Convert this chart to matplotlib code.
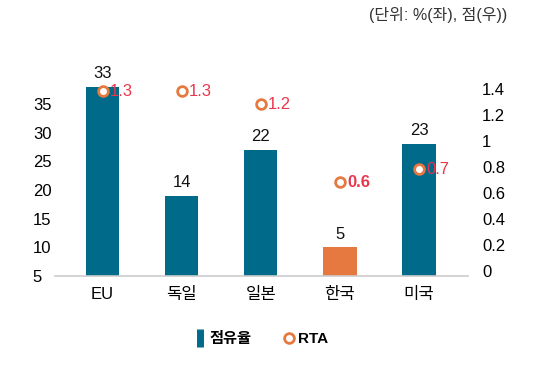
import numpy as np
import matplotlib
matplotlib.use("Agg")
import matplotlib.pyplot as plt
from matplotlib.lines import Line2D

plt.rcParams['font.family'] = ['Liberation Sans', 'Noto Sans CJK KR', 'DejaVu Sans']

categories = ['EU', '독일', '일본', '한국', '미국']
share = [33, 14, 22, 5, 23]          # 점유율 (%), left axis
rta = [1.3, 1.3, 1.2, 0.6, 0.7]      # RTA (점), right axis
left_tick_labels = ['5', '10', '15', '20', '25', '30', '35']
right_tick_labels = ['0', '0.2', '0.4', '0.6', '0.8', '1', '1.2', '1.4']

teal = '#006A8A'
orange = '#E5793F'
red = '#E8374D'

fig = plt.figure(figsize=(5.4, 3.83), dpi=100)
ax = fig.add_axes([0.102, 0.279, 0.765, 0.564])
ax2 = ax.twinx()

x = np.arange(len(categories))
colors = [orange if c == '한국' else teal for c in categories]
ax.bar(x, share, width=0.42, color=colors, zorder=2)
for xi, v in zip(x, share):
    ax.annotate(str(v), (xi, v), xytext=(0, 4), textcoords='offset points',
                ha='center', va='bottom', fontsize=12, color='#111111')

ax.set_xlim(-0.6, 4.62)
ax.set_ylim(0, 37.6)
ax.set_xticks(x, categories)
ax.set_yticks(np.arange(0, 31, 5), left_tick_labels)
ax.tick_params(axis='x', length=0, pad=8, labelsize=12)
ax.tick_params(axis='y', length=0, pad=16, labelsize=12)
for lbl in ax.get_yticklabels():
    lbl.set_horizontalalignment('left')

for s in ['top', 'right', 'left']:
    ax.spines[s].set_visible(False)
ax.spines['bottom'].set_color('#cccccc')
ax.spines['bottom'].set_linewidth(1.2)

# RTA points
ax2.plot(x, rta, linestyle='none', marker='o', markersize=7,
         markerfacecolor='white', markeredgecolor=orange, markeredgewidth=2, zorder=3)
for xi, v, c in zip(x, rta, categories):
    ax2.annotate(f'{v}', (xi, v), xytext=(5, 0), textcoords='offset points',
                 ha='left', va='center', fontsize=12, color=red,
                 fontweight='bold' if c == '한국' else 'normal')
ax2.set_ylim(-0.123, 1.538)
ax2.set_yticks(np.arange(0, 1.41, 0.2) - 0.085, right_tick_labels)
ax2.tick_params(axis='y', length=0, pad=10, labelsize=12)
for s in ['top', 'right', 'left', 'bottom']:
    ax2.spines[s].set_visible(False)
ax.set_zorder(ax2.get_zorder() - 1)
ax.patch.set_visible(False)

handles = [
    Line2D([], [], linestyle='none', marker='|', markersize=13,
           markeredgewidth=5, color=teal, label='점유율'),
    Line2D([], [], linestyle='none', marker='o', markersize=7,
           markerfacecolor='white', markeredgecolor=orange,
           markeredgewidth=2, label='RTA'),
]
fig.legend(handles=handles, loc='center', bbox_to_anchor=(0.485, 0.115),
           ncol=2, frameon=False, handlelength=0.6, handletextpad=0.3,
           columnspacing=2.2, prop={'size': 11, 'weight': 'bold'})

fig.text(0.94, 0.96, '(단위: %(좌), 점(우))', ha='right', va='center',
         fontsize=11.5, color='#333333')

fig.savefig('out.png', dpi=100)
